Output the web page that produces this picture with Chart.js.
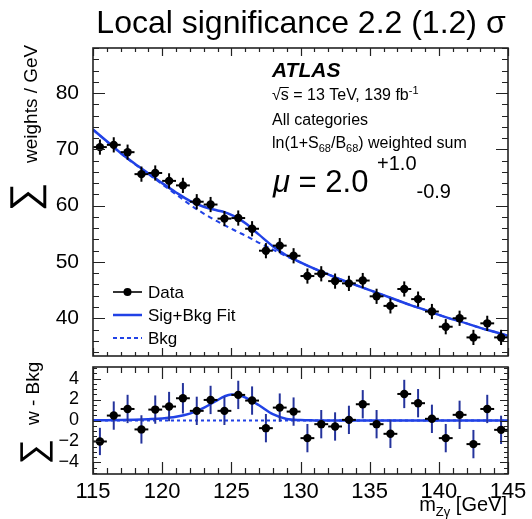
<!DOCTYPE html>
<html>
<head>
<meta charset="utf-8">
<script src="https://cdn.jsdelivr.net/npm/chart.js@4.4.0/dist/chart.umd.min.js"></script>
<style>
  html, body { margin: 0; padding: 0; background: #fff; }
  #wrap { position: relative; width: 532px; height: 519px; background: #fff; }
  #top { position: absolute; left: 0; top: 0; width: 532px; height: 362px; }
  #bot { position: absolute; left: 0; top: 360px; width: 532px; height: 159px; }
</style>
</head>
<body>
<div id="wrap">
  <canvas id="top" width="532" height="362"></canvas>
  <canvas id="bot" width="532" height="159"></canvas>
</div>
<script>
// m_Zgamma bin centres (1 GeV bins)
var massBins = [115.5, 116.5, 117.5, 118.5, 119.5, 120.5, 121.5, 122.5, 123.5, 124.5,
                125.5, 126.5, 127.5, 128.5, 129.5, 130.5, 131.5, 132.5, 133.5, 134.5,
                135.5, 136.5, 137.5, 138.5, 139.5, 140.5, 141.5, 142.5, 143.5, 144.5];
var weightsData = [70.4, 70.8, 69.5, 65.6, 65.8, 64.4, 63.6, 60.7, 60.2, 57.7,
                   57.8, 55.9, 52.0, 52.9, 51.1, 47.5, 47.9, 46.6, 46.2, 46.7,
                   43.9, 42.2, 45.2, 43.4, 41.2, 38.5, 40.0, 36.6, 39.1, 36.6];
var weightsErr = [1.35, 1.35, 1.35, 1.35, 1.35, 1.35, 1.35, 1.35, 1.35, 1.35,
                  1.35, 1.35, 1.35, 1.35, 1.35, 1.35, 1.35, 1.35, 1.35, 1.35,
                  1.35, 1.35, 1.35, 1.35, 1.35, 1.35, 1.35, 1.35, 1.35, 1.35];
var residData = [-2.0, 0.47, 1.1, -0.85, 1.04, 1.33, 2.12, 0.92, 1.96, 0.92,
                 2.44, 1.9, -0.73, 1.23, 0.85, -1.68, -0.35, -0.57, 0.06, 1.55,
                 -0.35, -1.27, 2.53, 1.65, 0.16, -1.68, 0.54, -2.25, 1.1, -0.89];
var residErr = [1.3, 1.35, 1.35, 1.35, 1.35, 1.4, 1.45, 1.35, 1.35, 1.35,
                1.35, 1.35, 1.35, 1.35, 1.35, 1.35, 1.35, 1.35, 1.35, 1.35,
                1.35, 1.35, 1.35, 1.35, 1.35, 1.35, 1.35, 1.35, 1.35, 1.35];

// fit curves
var fitMass = [115, 116, 117, 118, 119, 120, 121, 122, 123, 124, 124.5, 125, 125.5,
               126, 127, 128, 129, 130, 131, 132, 133, 134, 135, 136, 137, 138, 139,
               140, 141, 142, 143, 144, 145];
var sigBkgFit = [73.52, 71.43, 69.35, 67.48, 65.73, 64.0, 62.35, 60.85, 59.8, 59.15, 58.85, 58.38, 57.75,
                 56.9, 54.85, 52.8, 51.15, 49.94, 48.81, 47.8, 46.8, 45.9, 45.0, 44.1, 43.2, 42.3, 41.5,
                 40.6, 39.8, 39.1, 38.3, 37.6, 36.9];
var bkgFit = [73.5, 71.4, 69.3, 67.4, 65.6, 63.8, 62.0, 60.2, 58.6, 57.2, 56.55, 55.9, 55.3,
              54.7, 53.4, 52.2, 51.0, 49.9, 48.8, 47.8, 46.8, 45.9, 45.0, 44.1, 43.2, 42.3, 41.5,
              40.6, 39.8, 39.1, 38.3, 37.6, 36.9];
var sigFitResid = [0.02, 0.03, 0.05, 0.08, 0.13, 0.2, 0.35, 0.65, 1.2, 1.95, 2.3, 2.48, 2.45,
                   2.2, 1.45, 0.6, 0.15, 0.04, 0.01, 0, 0, 0, 0, 0, 0, 0, 0,
                   0, 0, 0, 0, 0, 0];
var bkgResidMass = [115, 145];
var bkgResid = [0, 0];

var xTicks = [115, 120, 125, 130, 135, 140, 145];
var yTicksTop = [40, 50, 60, 70, 80];
var yTicksBottom = [-4, -2, 0, 2, 4];

var FONT = '"Liberation Sans", Arial, Helvetica, sans-serif';
var BLUE = '#2142e6';
var FRAME = '#222';

Chart.defaults.font.family = FONT;
Chart.defaults.color = '#000';

function pts(xs, ys) {
    return xs.map(function(x, i) { return { x: x, y: ys[i] }; });
}

function runs(ctx, x, y, parts) {
    parts.forEach(function(p) {
        ctx.font = (p.style || '') + ' ' + p.size + 'px ' + FONT;
        ctx.fillText(p.t, x, y + (p.dy || 0));
        x += ctx.measureText(p.t).width + (p.gap || 0);
    });
    return x;
}

function runsWidth(ctx, parts) {
    var w = 0;
    parts.forEach(function(p) {
        ctx.font = (p.style || '') + ' ' + p.size + 'px ' + FONT;
        w += ctx.measureText(p.t).width + (p.gap || 0);
    });
    return w;
}

// error bars drawn just before the data markers
var errorBars = {
    id: 'errorBars',
    beforeDatasetDraw: function(chart, args, opts) {
        if (args.index !== 0) return;
        var ctx = chart.ctx, xs = chart.scales.x, ys = chart.scales.y;
        ctx.save();
        ctx.lineWidth = 2;
        opts.y.forEach(function(v, i) {
            var px = xs.getPixelForValue(opts.x[i]);
            var py = ys.getPixelForValue(v);
            ctx.strokeStyle = opts.vColor;
            ctx.beginPath();
            ctx.moveTo(px, ys.getPixelForValue(v - opts.err[i]));
            ctx.lineTo(px, ys.getPixelForValue(v + opts.err[i]));
            ctx.stroke();
            ctx.strokeStyle = opts.hColor;
            ctx.beginPath();
            ctx.moveTo(xs.getPixelForValue(opts.x[i] - 0.5), py);
            ctx.lineTo(xs.getPixelForValue(opts.x[i] + 0.5), py);
            ctx.stroke();
        });
        ctx.restore();
    }
};

// ROOT style frame with inward ticks on all four sides
var frameTicks = {
    id: 'frameTicks',
    afterDatasetsDraw: function(chart, args, o) {
        var ctx = chart.ctx, a = chart.chartArea, xs = chart.scales.x, ys = chart.scales.y;
        ctx.save();
        ctx.strokeStyle = FRAME;
        ctx.lineWidth = 1.2;
        ctx.beginPath();
        var n = Math.round((xs.max - xs.min) / o.xMinor), i, v, p, len;
        for (i = 0; i <= n; i++) {
            v = xs.min + i * o.xMinor;
            p = Math.round(xs.getPixelForValue(v)) + 0.5;
            len = (Math.abs(v / o.xMajor - Math.round(v / o.xMajor)) < 1e-6) ? o.xMajorLen : o.xMinorLen;
            ctx.moveTo(p, a.bottom); ctx.lineTo(p, a.bottom - len);
            ctx.moveTo(p, a.top); ctx.lineTo(p, a.top + len);
        }
        var start = Math.ceil(ys.min / o.yMinor - 1e-6);
        var stop = Math.floor(ys.max / o.yMinor + 1e-6);
        for (i = start; i <= stop; i++) {
            v = i * o.yMinor;
            p = Math.round(ys.getPixelForValue(v)) + 0.5;
            len = (Math.abs(v / o.yMajor - Math.round(v / o.yMajor)) < 1e-6) ? o.yMajorLen : o.yMinorLen;
            ctx.moveTo(a.left, p); ctx.lineTo(a.left + len, p);
            ctx.moveTo(a.right, p); ctx.lineTo(a.right - len, p);
        }
        ctx.stroke();
        ctx.lineWidth = 1.6;
        ctx.strokeRect(a.left, a.top, a.right - a.left, a.bottom - a.top);
        ctx.restore();
    }
};

var topText = {
    id: 'topText',
    afterDraw: function(chart) {
        var ctx = chart.ctx;
        ctx.save();
        ctx.fillStyle = '#000';
        ctx.textBaseline = 'alphabetic';

        // title
        ctx.textAlign = 'center';
        ctx.font = '32px ' + FONT;
        ctx.fillText('Local significance 2.2 (1.2) \u03c3', 301, 33);
        ctx.textAlign = 'left';

        // ATLAS block
        runs(ctx, 272, 77, [{ t: 'ATLAS', size: 21, style: 'italic bold' }]);
        ctx.font = '16px ' + FONT;
        var wr = ctx.measureText('\u221a').width, wsx = ctx.measureText('s').width;
        ctx.fillText('\u221a', 272, 100);
        ctx.lineWidth = 1;
        ctx.strokeStyle = '#000';
        ctx.beginPath();
        ctx.moveTo(272 + wr - 1, 87.5);
        ctx.lineTo(272 + wr + wsx, 87.5);
        ctx.stroke();
        runs(ctx, 272 + wr, 100, [
            { t: 's = 13 TeV, 139 fb', size: 16 },
            { t: '-1', size: 11, dy: -6 }
        ]);
        runs(ctx, 272, 125, [{ t: 'All categories', size: 16 }]);
        runs(ctx, 272, 148, [
            { t: 'ln(1+S', size: 16 },
            { t: '68', size: 11, dy: 4 },
            { t: '/B', size: 16 },
            { t: '68', size: 11, dy: 4 },
            { t: ') weighted sum', size: 16 }
        ]);
        runs(ctx, 273, 192, [
            { t: '\u03bc', size: 31, style: 'italic' },
            { t: ' = 2.0 ', size: 31 },
            { t: '+1.0', size: 20, dy: -22 },
            { t: '-0.9', size: 20, dy: 6 }
        ]);

        // legend
        ctx.lineWidth = 1.6;
        ctx.strokeStyle = '#000';
        ctx.beginPath(); ctx.moveTo(113, 292); ctx.lineTo(142, 292); ctx.stroke();
        ctx.beginPath(); ctx.arc(127.5, 292, 4, 0, Math.PI * 2); ctx.fill();
        ctx.strokeStyle = BLUE;
        ctx.lineWidth = 2.5;
        ctx.beginPath(); ctx.moveTo(113, 315); ctx.lineTo(142, 315); ctx.stroke();
        ctx.lineWidth = 2;
        ctx.setLineDash([4, 3]);
        ctx.beginPath(); ctx.moveTo(113, 338); ctx.lineTo(142, 338); ctx.stroke();
        ctx.setLineDash([]);
        ctx.font = '17px ' + FONT;
        ctx.fillText('Data', 148, 298);
        ctx.fillText('Sig+Bkg Fit', 148, 321);
        ctx.fillText('Bkg', 148, 344);

        // y title
        ctx.save();
        ctx.translate(27, 197);
        ctx.rotate(-Math.PI / 2);
        ctx.textAlign = 'center';
        ctx.textBaseline = 'middle';
        ctx.font = '40px ' + FONT;
        ctx.fillText('\u2211', 0, 0);
        ctx.restore();
        ctx.save();
        ctx.translate(37, 163);
        ctx.rotate(-Math.PI / 2);
        ctx.font = '19px ' + FONT;
        ctx.fillText('weights / GeV', 0, 0);
        ctx.restore();

        ctx.restore();
    }
};

var bottomText = {
    id: 'bottomText',
    afterDraw: function(chart) {
        var ctx = chart.ctx;
        ctx.save();
        ctx.fillStyle = '#000';
        ctx.textBaseline = 'alphabetic';

        // x title, right aligned to the frame
        var parts = [
            { t: 'm', size: 20 },
            { t: 'Z\u03b3', size: 13, dy: 5 },
            { t: ' [GeV]', size: 20 }
        ];
        runs(ctx, 507 - runsWidth(ctx, parts), 151, parts);

        // y title
        ctx.save();
        ctx.translate(35, 92);
        ctx.rotate(-Math.PI / 2);
        ctx.textAlign = 'center';
        ctx.textBaseline = 'middle';
        ctx.font = '36px ' + FONT;
        ctx.fillText('\u2211', 0, 0);
        ctx.restore();
        ctx.save();
        ctx.translate(39, 65);
        ctx.rotate(-Math.PI / 2);
        ctx.font = '19px ' + FONT;
        ctx.fillText('w - Bkg', 0, 0);
        ctx.restore();

        ctx.restore();
    }
};

function fixedTicks(list) {
    return function(scale) {
        scale.ticks = list.map(function(v) { return { value: v }; });
    };
}

// pin the axis box size and drop the label overhang padding
function pinWidth(w) {
    return function(s) { s.width = w; s.paddingTop = 0; s.paddingBottom = 0; };
}
function pinHeight(h) {
    return function(s) { s.height = h; s.paddingLeft = 0; s.paddingRight = 0; };
}

new Chart(document.getElementById('top'), {
    type: 'scatter',
    data: {
        datasets: [{
            label: 'Data',
            data: pts(massBins, weightsData),
            showLine: false,
            pointRadius: 4.2,
            pointBackgroundColor: '#000',
            pointBorderWidth: 0
        }, {
            label: 'Sig+Bkg Fit',
            data: pts(fitMass, sigBkgFit),
            showLine: true,
            pointRadius: 0,
            borderColor: BLUE,
            borderWidth: 2.5,
            cubicInterpolationMode: 'monotone'
        }, {
            label: 'Bkg',
            data: pts(fitMass, bkgFit),
            showLine: true,
            pointRadius: 0,
            borderColor: BLUE,
            borderWidth: 2,
            borderDash: [5, 4],
            cubicInterpolationMode: 'monotone'
        }]
    },
    options: {
        responsive: false,
        animation: false,
        events: [],
        layout: { padding: { left: 0, right: 24, top: 48, bottom: 6 } },
        plugins: {
            legend: { display: false },
            tooltip: { enabled: false },
            errorBars: { x: massBins, y: weightsData, err: weightsErr, vColor: '#000', hColor: '#000' },
            frameTicks: { xMajor: 5, xMinor: 1, xMajorLen: 8, xMinorLen: 4, yMajor: 10, yMinor: 2, yMajorLen: 12, yMinorLen: 6 }
        },
        scales: {
            x: { type: 'linear', display: false, min: 115, max: 145 },
            y: {
                type: 'linear', min: 33.3, max: 88,
                afterFit: pinWidth(93),
                afterBuildTicks: fixedTicks(yTicksTop),
                grid: { display: false },
                border: { display: false },
                ticks: { color: '#000', font: { size: 21 }, padding: 6, autoSkip: false }
            }
        }
    },
    plugins: [errorBars, frameTicks, topText]
});

new Chart(document.getElementById('bot'), {
    type: 'scatter',
    data: {
        datasets: [{
            label: 'Data',
            data: pts(massBins, residData),
            showLine: false,
            pointRadius: 4.2,
            pointBackgroundColor: '#000',
            pointBorderWidth: 0
        }, {
            label: 'Sig+Bkg Fit',
            data: pts(fitMass, sigFitResid),
            showLine: true,
            pointRadius: 0,
            borderColor: BLUE,
            borderWidth: 2.5,
            cubicInterpolationMode: 'monotone'
        }, {
            label: 'Bkg',
            data: pts(bkgResidMass, bkgResid),
            showLine: true,
            pointRadius: 0,
            borderColor: BLUE,
            borderWidth: 2,
            borderDash: [3, 3]
        }]
    },
    options: {
        responsive: false,
        animation: false,
        events: [],
        layout: { padding: { left: 0, right: 24, top: 7, bottom: 0 } },
        plugins: {
            legend: { display: false },
            tooltip: { enabled: false },
            errorBars: { x: massBins, y: residData, err: residErr, vColor: '#24339c', hColor: '#000' },
            frameTicks: { xMajor: 5, xMinor: 1, xMajorLen: 12, xMinorLen: 6, yMajor: 2, yMinor: 0.5, yMajorLen: 8, yMinorLen: 4 }
        },
        scales: {
            x: {
                type: 'linear', min: 115, max: 145,
                afterFit: pinHeight(45),
                afterBuildTicks: fixedTicks(xTicks),
                grid: { display: false },
                border: { display: false },
                ticks: { color: '#000', font: { size: 22 }, padding: -3, autoSkip: false, maxRotation: 0 }
            },
            y: {
                type: 'linear', min: -5.1, max: 5.1,
                afterFit: pinWidth(93),
                afterBuildTicks: fixedTicks(yTicksBottom),
                grid: { display: false },
                border: { display: false },
                ticks: {
                    color: '#000', font: { size: 18 }, padding: 6, autoSkip: false,
                    callback: function(v) { return String(v).replace('-', '\u2212'); }
                }
            }
        }
    },
    plugins: [errorBars, frameTicks, bottomText]
});
</script>
</body>
</html>
